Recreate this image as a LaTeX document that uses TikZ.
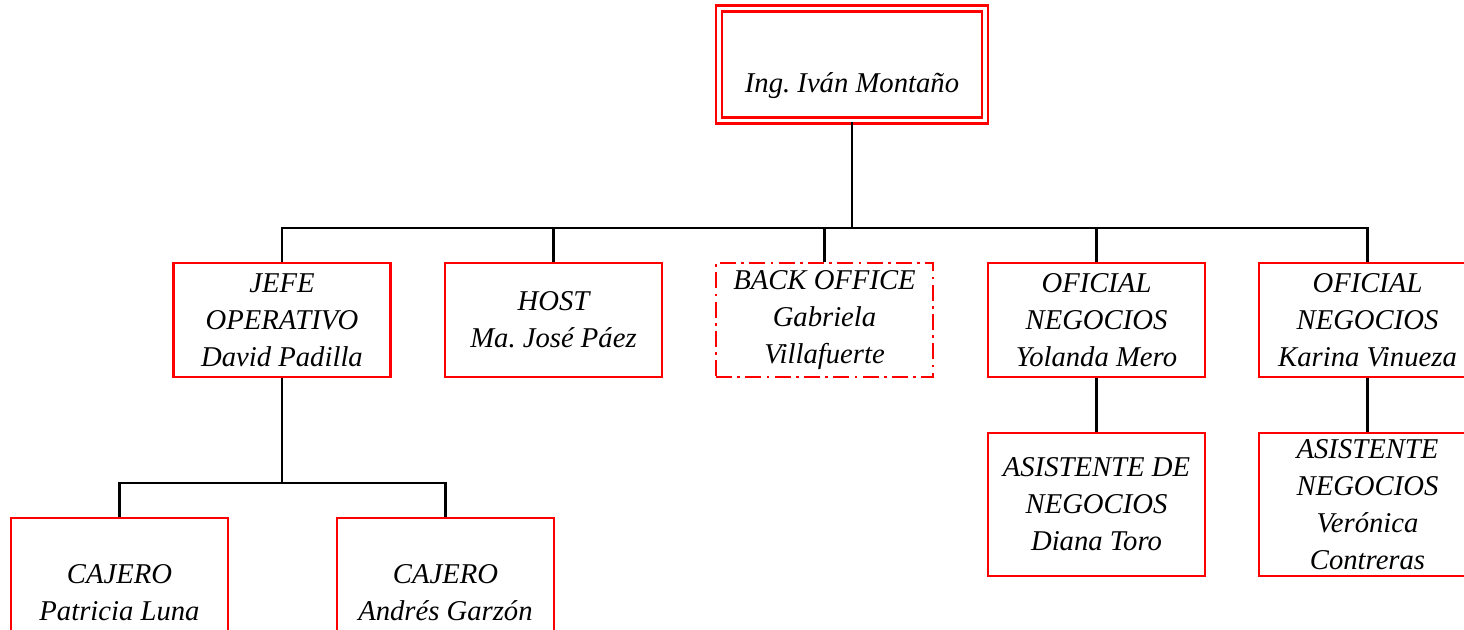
\documentclass[tikz,border=0pt]{standalone}
\usepackage{fontspec}
\setmainfont{Liberation Serif}
\frenchspacing
\begin{document}
\begin{tikzpicture}[x=0.75pt,y=-0.75pt,
  every node/.style={font=\fontsize{21.5pt}{27.75pt}\selectfont\itshape, align=center},
  box/.style={draw=red, line width=2pt, inner sep=0.5pt,
    minimum width=162.75pt, minimum height=85.5pt},
  tallbox/.style={box, minimum height=107.25pt},
  dashdotbox/.style={box, dash pattern=on 12pt off 4pt on 2pt off 4pt},
  topbox/.style={draw=red, line width=2pt, double=white, double distance=2.6pt,
    inner sep=0.5pt, minimum width=199.5pt, minimum height=84pt},
  conn/.style={draw=black, line width=2pt}]
\useasboundingbox (0,0) rectangle (1464,629);
\clip (0,0) rectangle (1464,629);

% director
\node[topbox] (top) at (852,64.5) {\strut\\Ing. Iván Montaño};

% second level
\node[box] (jefe) at (282,320) {JEFE\\OPERATIVO\\David Padilla};
\node[box] (host) at (553.5,320) {HOST\\Ma. José Páez};
\node[dashdotbox] (back) at (824.5,320) {BACK OFFICE\\Gabriela\\Villafuerte};
\node[box] (yol) at (1096.5,320) {OFICIAL\\NEGOCIOS\\Yolanda Mero};
\node[box] (kar) at (1367.5,320) {OFICIAL\\NEGOCIOS\\Karina Vinueza};

% third level
\node[box, minimum height=112.5pt] (caj1) at (119.5,593) {CAJERO\\Patricia Luna};
\node[box, minimum height=112.5pt] (caj2) at (445.5,593) {CAJERO\\Andrés Garzón};
\node[tallbox] (dia) at (1096.5,504.5) {ASISTENTE DE\\NEGOCIOS\\Diana Toro};
\node[tallbox] (ver) at (1367.5,504.5) {ASISTENTE\\NEGOCIOS\\Verónica\\Contreras};

% connectors
\coordinate (hub) at (852,228);
\coordinate (jhub) at (282,483);
\draw[conn] (top.south) -- (hub);
\draw[conn] (jefe.north) |- (hub) -| (kar.north);
\draw[conn] (host.north) -- (host.north |- hub);
\draw[conn] (back.north) -- (back.north |- hub);
\draw[conn] (yol.north) -- (yol.north |- hub);
\draw[conn] (jefe.south) -- (jhub);
\draw[conn] (caj1.north) |- (jhub) -| (caj2.north);
\draw[conn] (yol.south) -- (dia.north);
\draw[conn] (kar.south) -- (ver.north);
\end{tikzpicture}
\end{document}
